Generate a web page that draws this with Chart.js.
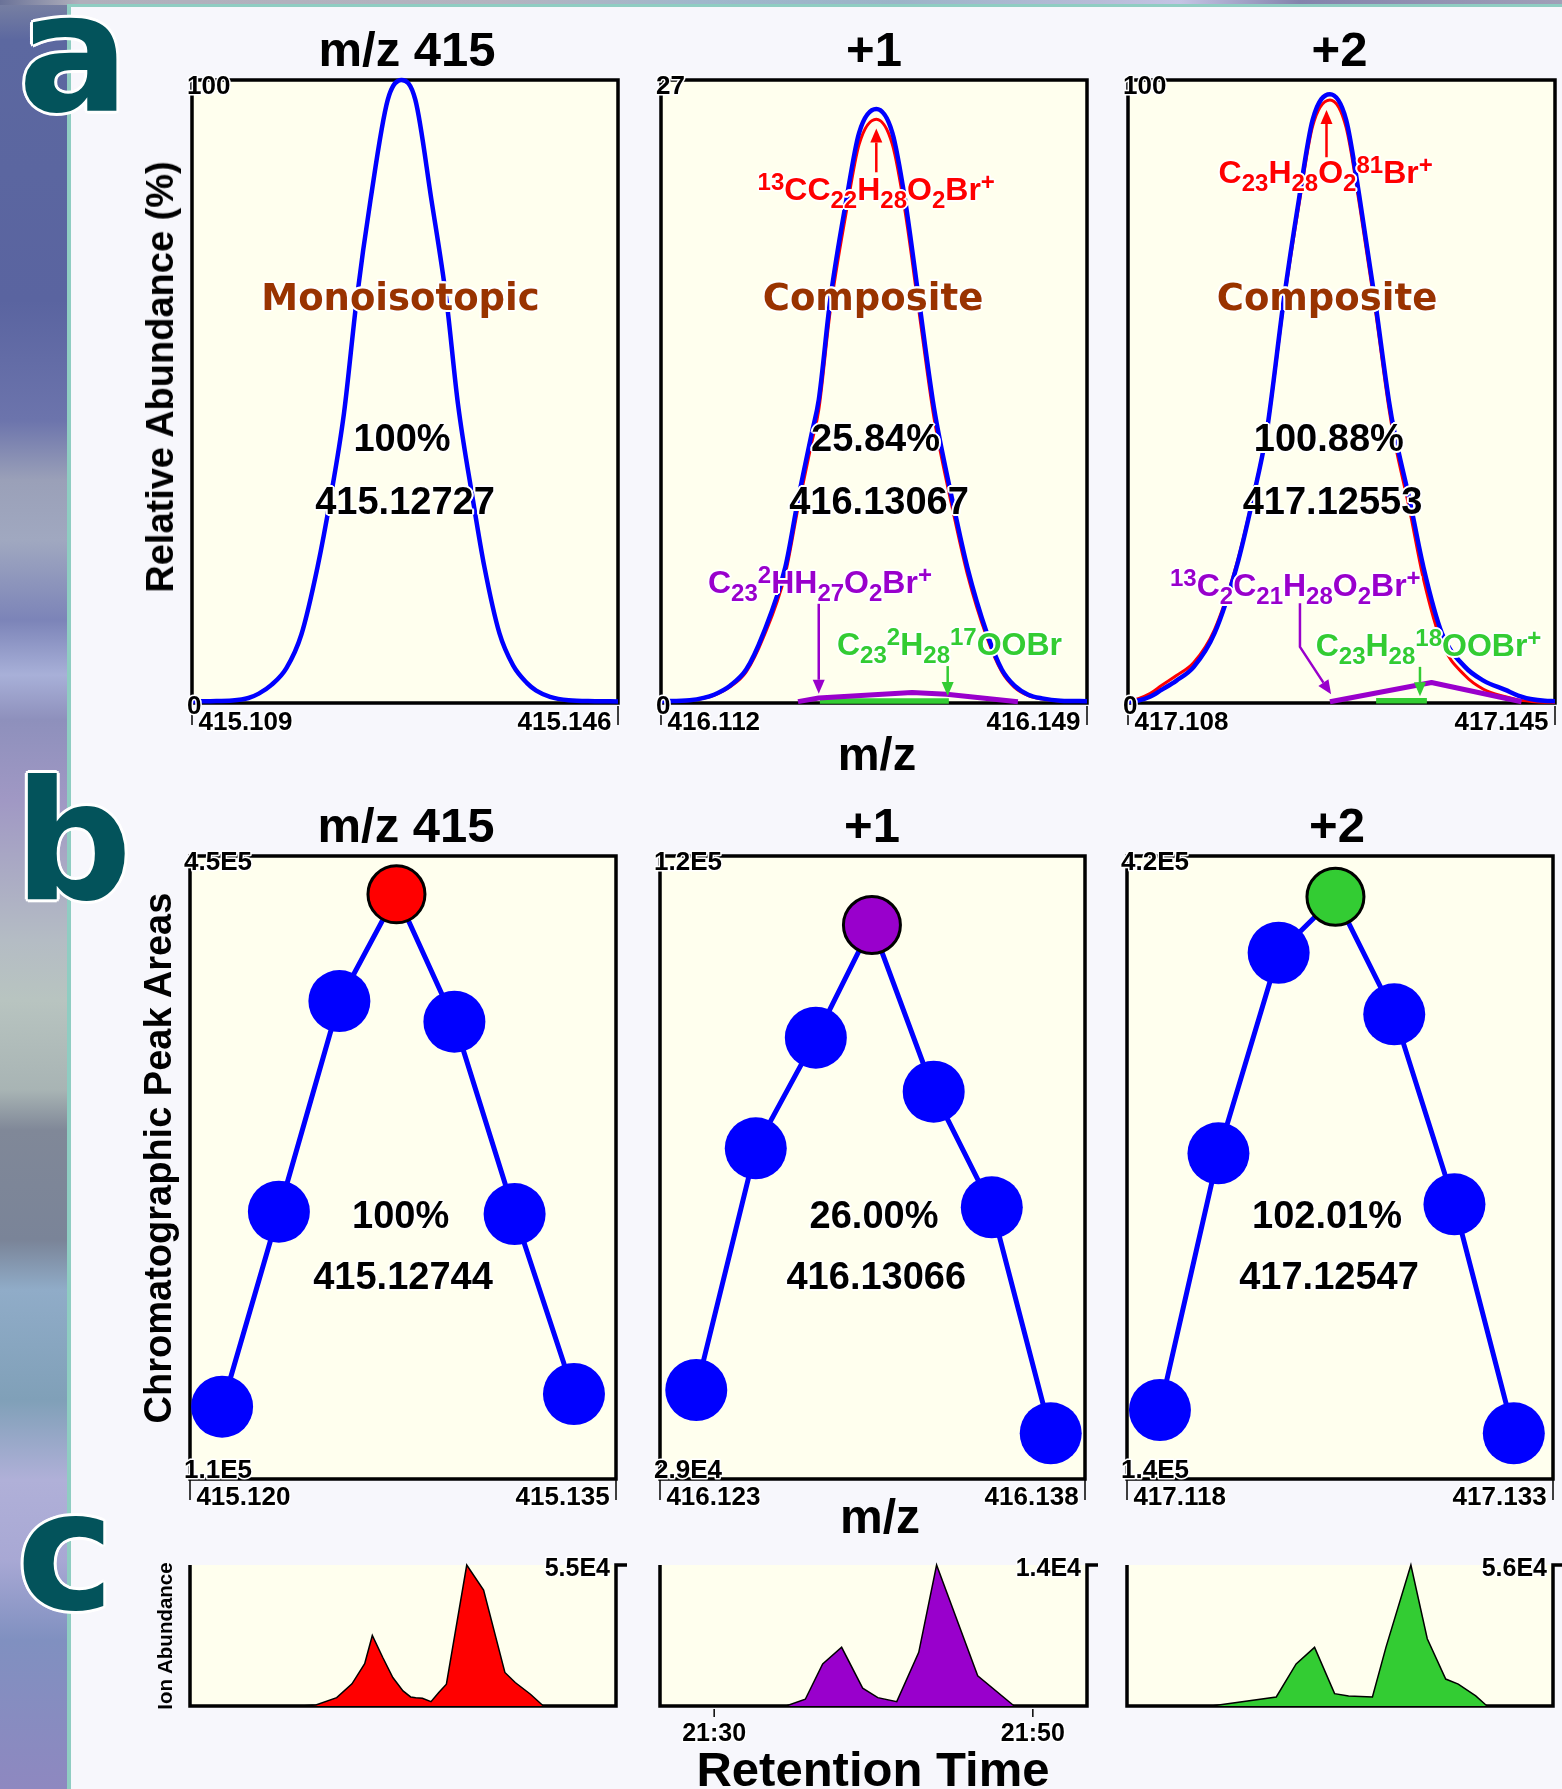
<!DOCTYPE html>
<html><head><meta charset="utf-8"><title>Isotope peaks</title>
<script src="https://cdn.jsdelivr.net/npm/chart.js@4.4.1/dist/chart.umd.min.js"></script>
<style>
html,body{margin:0;padding:0}
body{width:1562px;height:1789px;position:relative;overflow:hidden;background:#F7F7FC;font-family:"Liberation Sans",Arial,sans-serif;}
#strip{position:absolute;left:0;top:0;width:67px;height:1789px;
background:linear-gradient(to bottom,#7a82a2 0px,#5c68a0 40px,#5a64a0 300px,#6c74ac 420px,#9aa0b8 480px,#a0a8c0 540px,#7c84b8 620px,#a8b0d8 675px,#8e90bc 720px,#a098c4 800px,#b4bcc4 940px,#b8c4c0 1000px,#a8b4b4 1090px,#808898 1130px,#7a8498 1240px,#90acc8 1290px,#80a0b8 1400px,#b0b0d8 1480px,#a8a8d4 1560px,#8090c0 1640px,#8e88c0 1789px);}
#topstrip{position:absolute;left:0;top:0;width:1562px;height:5px;background:linear-gradient(to right,#6a7298 0px,#b0b0bc 80px,#b4b4c0 500px,#a0b8cc 700px,#9cb4c8 900px,#b8bcd8 1100px,#c4c4e4 1180px,#8484ac 1300px,#a0a0b8 1562px);}
#vline{position:absolute;left:67px;top:4px;width:4px;height:1785px;background:#8fcdc2}
#hline{position:absolute;left:67px;top:4px;width:1495px;height:3px;background:#8fcdc2}
.cw{position:absolute;z-index:1}
.t{position:absolute;z-index:3;white-space:nowrap;line-height:1;font-weight:bold;transform:translate(-50%,-50%);color:#000}
.rot{transform:translate(-50%,-50%) rotate(-90deg)}
.f{position:absolute;z-index:3;white-space:nowrap;line-height:1;font-weight:bold;font-size:32px}
.f .sb,.f .sp{font-size:24px;position:relative}
.f .sb{top:8px}
.f .sp{top:-10px}
.halo{text-shadow:-2px 0 #fff,2px 0 #fff,0 -2px #fff,0 2px #fff,-1.4px -1.4px #fff,1.4px 1.4px #fff,-1.4px 1.4px #fff,1.4px -1.4px #fff}
.brown{font-family:"DejaVu Sans",sans-serif;color:#993300;font-size:37px}
.letter{position:absolute;z-index:3;font-family:"DejaVu Sans",sans-serif;font-weight:bold;font-size:165px;line-height:165px;color:#03535b;
text-shadow:-3px 0 #fff,3px 0 #fff,0 -3px #fff,0 3px #fff,-2.1px -2.1px #fff,2.1px 2.1px #fff,-2.1px 2.1px #fff,2.1px -2.1px #fff}
</style></head>
<body>
<div id="strip"></div><div id="topstrip"></div><div id="vline"></div><div id="hline"></div>
<script>
// ---------- DATA ----------
// Panel a: mass spectral peak profiles (m/z vs relative abundance)
const A1_MZ   = [415.1090,415.1106,415.1125,415.1139,415.1148,415.1159,415.1172,415.1185,415.1199,415.1210,415.1222,415.1233,415.1245,415.1260,415.1272,415.1284,415.1298,415.1311,415.1321,415.1334,415.1344,415.1357,415.1369,415.1381,415.1389,415.1401,415.1417,415.1440,415.1460];
const A1_BLUE = [0.25,0.3,0.4,0.8,1.5,2.9,5.6,11.0,21.8,32.6,46.5,64.7,80.7,96.8,100,96.8,80.7,64.7,48.0,32.6,21.8,11.2,6.0,3.2,2.0,1.0,0.45,0.3,0.25];

const A2_MZ   = [416.1120,416.1145,416.1157,416.1166,416.1180,416.1194,416.1209,416.1228,416.1239,416.1251,416.1257,416.1267,416.1281,416.1292,416.1307,416.1321,416.1332,416.1344,416.1356,416.1361,416.1373,416.1386,416.1403,416.1416,416.1427,416.1439,416.1451,416.1467,416.1490];
const A2_BLUE = [0.08,0.12,0.22,0.36,0.75,1.45,3.03,5.89,8.80,11.70,13.13,17.47,21.80,24.70,25.74,24.70,21.80,17.47,13.13,11.70,8.80,5.89,3.03,1.45,0.75,0.36,0.2,0.1,0.08];
const A2_RED  = [0.08,0.11,0.2,0.33,0.7,1.35,2.85,5.6,8.45,11.3,12.7,17.0,21.3,24.2,25.30,24.2,21.3,17.0,12.7,11.3,8.45,5.6,2.85,1.35,0.68,0.32,0.17,0.09,0.08];
const A2_PURPLE_MZ = [416.1239,416.1257,416.1338,416.1368,416.1430];
const A2_PURPLE    = [0.06,0.22,0.46,0.38,0.05];
const A2_GREEN_MZ  = [416.1258,416.1370];
const A2_GREEN     = [0.09,0.09];

const A3_MZ   = [417.1080,417.1089,417.1099,417.1109,417.1122,417.1137,417.1155,417.1174,417.1188,417.1200,417.1204,417.1215,417.1228,417.1240,417.1255,417.1269,417.1281,417.1294,417.1306,417.1311,417.1324,417.1336,417.1352,417.1372,417.1388,417.1407,417.1418,417.1430,417.1441,417.1450];
const A3_BLUE = [0.2,0.4,1.0,2.1,3.6,5.8,11.2,21.8,32.6,43.3,48.6,64.7,80.7,93.6,97.7,93.6,80.7,64.7,48.6,43.3,32.6,21.8,11.2,5.8,3.6,2.1,1.2,0.6,0.35,0.3];
const A3_RED  = [0.3,0.7,1.5,2.8,4.4,6.5,11.8,22.2,32.8,43.3,48.4,64.2,79.8,92.6,96.8,92.4,79.5,63.5,47.4,42.0,31.0,19.9,9.6,4.4,2.2,1.0,0.5,0.25,0.12,0.1];
const A3_PURPLE_MZ = [417.1255,417.1343,417.1421];
const A3_PURPLE    = [0.2,3.3,0.2];
const A3_GREEN_MZ  = [417.1295,417.1339];
const A3_GREEN     = [0.35,0.35];

const A_XRANGE = [[415.109,415.146],[416.112,416.149],[417.108,417.145]];
const A_YRANGE = [[0,100],[0,27],[0,100]];

// Panel b: chromatographic peak areas vs m/z
const B1_MZ   = [415.12113,415.12313,415.12526,415.12727,415.12931,415.13143,415.13352];
const B1_AREA = [149450,255870,370850,429080,359560,254610,156390];
const B2_MZ   = [416.12428,416.12638,416.12850,416.13048,416.13266,416.13471,416.13679];
const B2_AREA = [42000,77300,93460,109920,85570,68690,35680];
const B3_MZ   = [417.11916,417.12122,417.12334,417.12534,417.12741,417.12953,417.13162];
const B3_AREA = [171010,286370,376520,401690,348840,263450,160540];
const B_XRANGE = [[415.120,415.135],[416.123,416.138],[417.118,417.133]];
const B_YRANGE = [[1.1e5,4.5e5],[2.9e4,1.2e5],[1.4e5,4.2e5]];

// Panel c: extracted ion chromatograms (retention time in s)
const C1_T = [1293.58,1294.52,1295.83,1296.79,1297.59,1298.07,1298.72,1299.36,1300.0,1300.48,1300.8,1301.22,1301.76,1302.25,1302.73,1304.01,1305.07,1306.41,1307.06,1308.02,1308.83];
const C1_I = [0,390,3260,8640,16500,27500,19000,11100,5900,3540,3260,3020,1690,5230,8530,55000,45200,13100,9150,4600,0];
const C2_T = [1294.51,1295.72,1296.81,1298.0,1299.32,1300.27,1301.46,1302.84,1303.96,1306.54,1308.83];
const C2_I = [0,670,4170,5830,1770,830,430,5330,14000,3000,0];
const C3_T = [1291.91,1295.99,1297.24,1298.4,1299.66,1300.54,1302.04,1302.89,1304.46,1305.49,1306.65,1307.44,1308.54,1309.25];
const C3_I = [0,3600,16700,23300,4900,4000,3600,23300,56000,26700,10700,8700,4000,0];
const C_XRANGE = [1286.6,1313.4];
const C_YMAX = [5.5e4,1.4e4,5.6e4];
const C_XTICKS = [1290,1310];

// ---------- LAYOUT ----------
const BOX_A = [{l:192,t:80,w:426,h:623},{l:661,t:80,w:426,h:623},{l:1128,t:80,w:427,h:623}];
const BOX_B = [{l:190,t:856,w:426,h:623},{l:660,t:856,w:425,h:623},{l:1127,t:856,w:426,h:623}];
const BOX_C = [{l:190,t:1565,w:426,h:141},{l:660,t:1565,w:427,h:141},{l:1127,t:1565,w:426,h:141}];

const BLUE='#0000FF', RED='#FF0000', PURPLE='#9900CC', GREEN='#33CC33';
const FONT='"Liberation Sans", Arial, sans-serif';

function pts(xs, ys){ return xs.map((x,i)=>({x:x, y:ys[i]})); }
function sci(v){ return v.toExponential(1).toUpperCase().replace('+',''); }
function mmss(s){ const m=Math.floor(s/60), r=Math.round(s-m*60); return m+':'+String(r).padStart(2,'0'); }

function outlinedText(ctx, txt, x, yBase, size, align){
  ctx.font='bold '+size+'px '+FONT;
  ctx.textAlign=align; ctx.textBaseline='alphabetic';
  ctx.lineJoin='round'; ctx.lineWidth=3; ctx.strokeStyle='#fff';
  ctx.strokeText(txt,x,yBase);
  ctx.fillStyle='#000'; ctx.fillText(txt,x,yBase);
}

function makeDeco(cfg){
  return {
    id:'deco',
    beforeDatasetsDraw(chart){
      const ctx=chart.ctx, a=chart.chartArea;
      ctx.save();
      ctx.fillStyle='#FFFFEE';
      ctx.fillRect(a.left,a.top,a.right-a.left,a.bottom-a.top);
      ctx.strokeStyle='#000'; ctx.lineWidth=3.5; ctx.lineJoin='miter'; ctx.lineCap='butt';
      ctx.beginPath();
      if(cfg.frame==='box'){
        ctx.rect(a.left,a.top,a.right-a.left,a.bottom-a.top);
      } else {
        ctx.moveTo(a.left,a.top); ctx.lineTo(a.left,a.bottom); ctx.lineTo(a.right,a.bottom);
        ctx.lineTo(a.right,a.top); ctx.lineTo(a.right+11,a.top);
      }
      ctx.stroke();
      ctx.restore();
    },
    afterDatasetsDraw(chart){
      const ctx=chart.ctx, a=chart.chartArea, xs=chart.scales.x, ys=chart.scales.y;
      ctx.save();
      (cfg.arrows||[]).forEach(ar=>{
        const P=ar.pts.map(p=>[xs.getPixelForValue(p[0]), ys.getPixelForValue(p[1])]);
        const n=P.length, tx=P[n-1][0], ty=P[n-1][1], px=P[n-2][0], py=P[n-2][1];
        const ang=Math.atan2(ty-py,tx-px), hl=14, hw=6;
        const bx=tx-hl*Math.cos(ang), by=ty-hl*Math.sin(ang);
        ctx.strokeStyle=ar.color; ctx.fillStyle=ar.color; ctx.lineWidth=2.5; ctx.lineCap='butt'; ctx.lineJoin='round';
        ctx.beginPath(); ctx.moveTo(P[0][0],P[0][1]);
        for(let i=1;i<n-1;i++) ctx.lineTo(P[i][0],P[i][1]);
        ctx.lineTo(bx,by); ctx.stroke();
        ctx.beginPath(); ctx.moveTo(tx,ty);
        ctx.lineTo(bx-hw*Math.sin(ang), by+hw*Math.cos(ang));
        ctx.lineTo(bx+hw*Math.sin(ang), by-hw*Math.cos(ang));
        ctx.closePath(); ctx.fill();
      });
      (cfg.xTicks||[]).forEach(t=>{
        const px=xs.getPixelForValue(t.v);
        ctx.strokeStyle='#000'; ctx.lineWidth=1.5;
        ctx.beginPath(); ctx.moveTo(px,a.bottom+cfg.tickY[0]); ctx.lineTo(px,a.bottom+cfg.tickY[1]); ctx.stroke();
        let lx=px;
        if(t.align==='left') lx=px+cfg.xPad; else if(t.align==='right') lx=px-cfg.xPad;
        outlinedText(ctx,t.label,lx,a.bottom+cfg.xDy+0.358*cfg.xFont,cfg.xFont,t.align);
      });
      (cfg.yLabels||[]).forEach(t=>{
        const py=ys.getPixelForValue(t.v)+t.dy;
        const lx=(t.align==='right')?a.right+t.dx:a.left+t.dx;
        outlinedText(ctx,t.label,lx,py+0.358*cfg.yFont,cfg.yFont,t.align);
      });
      ctx.restore();
    }
  };
}

function panel(box, datasets, xr, yr, deco){
  const M=50;
  const div=document.createElement('div'); div.className='cw';
  div.style.left=(box.l-M)+'px'; div.style.top=(box.t-M)+'px';
  const cv=document.createElement('canvas');
  cv.width=box.w+2*M; cv.height=box.h+2*M;
  cv.style.width=cv.width+'px'; cv.style.height=cv.height+'px';
  div.appendChild(cv); document.body.appendChild(div);
  new Chart(cv,{
    type:'line',
    data:{datasets:datasets},
    options:{
      responsive:false, animation:false, devicePixelRatio:1,
      layout:{padding:M},
      plugins:{legend:{display:false},tooltip:{enabled:false}},
      scales:{
        x:{type:'linear',min:xr[0],max:xr[1],display:false},
        y:{type:'linear',min:yr[0],max:yr[1],display:false}
      },
      elements:{point:{radius:0}}
    },
    plugins:[makeDeco(deco)]
  });
}

function curve(xs,ys,color,w,smooth){
  return {data:pts(xs,ys),borderColor:color,borderWidth:w,fill:false,pointRadius:0,
          tension:smooth?0.4:0,cubicInterpolationMode:smooth?'monotone':'default',clip:false,
          borderCapStyle:'butt',borderJoinStyle:'round'};
}

function aDeco(i, arrows){
  const r=A_XRANGE[i], yr=A_YRANGE[i];
  return {frame:'box', tickY:[3,22], xDy:18, xPad:6.5, xFont:26, yFont:26,
    xTicks:[{v:r[0],label:r[0].toFixed(3),align:'left'},{v:r[1],label:r[1].toFixed(3),align:'right'}],
    yLabels:[{v:yr[1],label:String(yr[1]),dx:-5,dy:5,align:'left'},{v:yr[0],label:String(yr[0]),dx:-5,dy:2,align:'left'}],
    arrows:arrows};
}

// ---------- PANEL a ----------
panel(BOX_A[0],[curve(A1_MZ,A1_BLUE,BLUE,4.5,true)],A_XRANGE[0],A_YRANGE[0],aDeco(0,[]));
panel(BOX_A[1],[
  curve(A2_PURPLE_MZ,A2_PURPLE,PURPLE,5,false),
  curve(A2_GREEN_MZ,A2_GREEN,GREEN,5.5,false),
  curve(A2_MZ,A2_BLUE,BLUE,4.5,true),
  curve(A2_MZ,A2_RED,RED,3,true)
],A_XRANGE[1],A_YRANGE[1],aDeco(1,[
  {color:RED,pts:[[416.1307,23.0],[416.1307,24.9]]},
  {color:PURPLE,pts:[[416.1257,4.3],[416.1257,0.4]]},
  {color:GREEN,pts:[[416.1369,1.6],[416.1369,0.3]]}
]));
panel(BOX_A[2],[
  curve(A3_PURPLE_MZ,A3_PURPLE,PURPLE,5,false),
  curve(A3_GREEN_MZ,A3_GREEN,GREEN,5.5,false),
  curve(A3_MZ,A3_BLUE,BLUE,4.5,true),
  curve(A3_MZ,A3_RED,RED,3,true)
],A_XRANGE[2],A_YRANGE[2],aDeco(2,[
  {color:RED,pts:[[417.1252,87.6],[417.1252,95.2]]},
  {color:PURPLE,pts:[[417.1229,16.0],[417.1229,9.0],[417.1256,1.4]]},
  {color:GREEN,pts:[[417.1333,5.8],[417.1333,1.1]]}
]));

// ---------- PANEL b ----------
const B_TOPCOL=[RED,PURPLE,GREEN];
[[B1_MZ,B1_AREA],[B2_MZ,B2_AREA],[B3_MZ,B3_AREA]].forEach((d,i)=>{
  const top=d[1].indexOf(Math.max.apply(null,d[1]));
  const n=d[0].length;
  const bg=[],bc=[],bw=[],rad=[];
  for(let k=0;k<n;k++){ const isTop=(k===top); bg.push(isTop?B_TOPCOL[i]:BLUE); bc.push(isTop?'#000':BLUE); bw.push(isTop?3:0); rad.push(isTop?28.5:31); }
  const r=B_XRANGE[i], yr=B_YRANGE[i];
  panel(BOX_B[i],[{data:pts(d[0],d[1]),borderColor:BLUE,borderWidth:5,tension:0,fill:false,clip:false,
      pointRadius:rad,pointBackgroundColor:bg,pointBorderColor:bc,pointBorderWidth:bw}],
    r,yr,{frame:'box',tickY:[1,21],xDy:17,xPad:6.4,xFont:26,yFont:26,
      xTicks:[{v:r[0],label:r[0].toFixed(3),align:'left'},{v:r[1],label:r[1].toFixed(3),align:'right'}],
      yLabels:[{v:yr[1],label:sci(yr[1]),dx:-6,dy:5,align:'left'},{v:yr[0],label:sci(yr[0]),dx:-6,dy:-10,align:'left'}]});
});

// ---------- PANEL c ----------
const C_COL=[RED,PURPLE,GREEN];
[[C1_T,C1_I],[C2_T,C2_I],[C3_T,C3_I]].forEach((d,i)=>{
  const cfg={frame:'open',tickY:[3,11],xDy:26,xPad:0,xFont:25,yFont:25,
    yLabels:[{v:C_YMAX[i],label:sci(C_YMAX[i]),dx:-6,dy:2,align:'right'}],
    xTicks: i===1 ? C_XTICKS.map(v=>({v:v,label:mmss(v),align:'center'})) : []};
  panel(BOX_C[i],[{data:pts(d[0],d[1]),borderColor:'#000',borderWidth:1.5,backgroundColor:C_COL[i],fill:'origin',tension:0,clip:false,pointRadius:0}],
    C_XRANGE,[0,C_YMAX[i]],cfg);
});

// ---------- TEXT ----------
function T(html,x,y,size,cls,extra){
  const d=document.createElement('div');
  d.className='t '+(cls||''); d.innerHTML=html;
  d.style.left=x+'px'; d.style.top=y+'px'; d.style.fontSize=size+'px';
  if(extra) Object.assign(d.style,extra);
  document.body.appendChild(d); return d;
}
function F(html,x,base,color){
  const d=document.createElement('div');
  d.className='f halo'; d.innerHTML=html; d.style.color=color;
  d.style.left=x+'px'; d.style.top=(base-27.1)+'px';
  document.body.appendChild(d);
}
function L(ch,x,top){
  const d=document.createElement('div'); d.className='letter'; d.textContent=ch;
  d.style.left=x+'px'; d.style.top=top+'px'; document.body.appendChild(d);
}
L('a',18,-27.6); L('b',14,760.4); L('c',16.5,1470.4);

const TITLES=['m/z 415','+1','+2'];
const TITLE_X_A=[407,874,1339.5], TITLE_X_B=[406,872,1337];
TITLES.forEach((s,i)=>{ T(s,TITLE_X_A[i],49,49); T(s,TITLE_X_B[i],825,49); });

T('Relative Abundance (%)',160,376.5,38,'rot');
T('Chromatographic Peak Areas',158,1157.5,38,'rot');
T('Ion Abundance',164.5,1636,20.5,'rot');
T('m/z',877,753,47);
T('m/z',880,1517,48);
T('Retention Time',873,1769,49);

T('Monoisotopic',400.5,297,37,'brown halo');
T('Composite',873,297,37,'brown halo');
T('Composite',1327,297,37,'brown halo');

const A_PCT=['100%','25.84%','100.88%'], A_MASS=['415.12727','416.13067','417.12553'];
const A_PX=[402,875.5,1328.8], A_MX=[405,879,1332.5];
const B_PCT=['100%','26.00%','102.01%'], B_MASS=['415.12744','416.13066','417.12547'];
const B_PX=[400.7,874,1327], B_MX=[403,876.3,1329];
for(let i=0;i<3;i++){
  T(A_PCT[i],A_PX[i],438.3,38,'halo'); T(A_MASS[i],A_MX[i],500.5,38,'halo');
  T(B_PCT[i],B_PX[i],1215,38,'halo'); T(B_MASS[i],B_MX[i],1275.6,38,'halo');
}

F('<span class="sp">13</span>CC<span class="sb">22</span>H<span class="sb">28</span>O<span class="sb">2</span>Br<span class="sp">+</span>',757.6,200,RED);
F('C<span class="sb">23</span>H<span class="sb">28</span>O<span class="sb">2</span><span class="sp">81</span>Br<span class="sp">+</span>',1218.6,183,RED);
F('C<span class="sb">23</span><span class="sp">2</span>HH<span class="sb">27</span>O<span class="sb">2</span>Br<span class="sp">+</span>',708,593,PURPLE);
F('C<span class="sb">23</span><span class="sp">2</span>H<span class="sb">28</span><span class="sp">17</span>OOBr',837,655,GREEN);
F('<span class="sp">13</span>C<span class="sb">2</span>C<span class="sb">21</span>H<span class="sb">28</span>O<span class="sb">2</span>Br<span class="sp">+</span>',1170,596,PURPLE);
F('C<span class="sb">23</span>H<span class="sb">28</span><span class="sp">18</span>OOBr<span class="sp">+</span>',1315.7,656,GREEN);
</script>
</body></html>
